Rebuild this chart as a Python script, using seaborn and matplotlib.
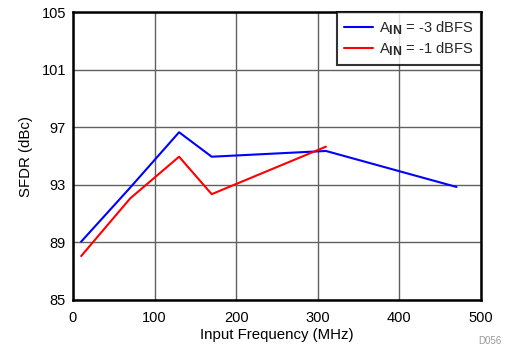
import matplotlib
matplotlib.use("Agg")
import matplotlib.pyplot as plt
import matplotlib._mathtext as _mt
import seaborn as sns
import pandas as pd

# larger subscripts, closer to the reference's bold "IN"
_mt.SHRINK_FACTOR = 0.85

freq_a = [10, 70, 130, 170, 310, 470]
sfdr_a = [89.05, 92.8, 96.65, 94.95, 95.35, 92.85]
freq_b = [10, 70, 130, 170, 310]
sfdr_b = [88.05, 92.05, 94.95, 92.35, 95.65]
labels = [r'A$_{\mathbf{IN}}$ = -3 dBFS', r'A$_{\mathbf{IN}}$ = -1 dBFS']
xticks = [0, 100, 200, 300, 400, 500]
yticks = [85, 89, 93, 97, 101, 105]

df = pd.concat([
    pd.DataFrame({"freq": freq_a, "sfdr": sfdr_a, "series": labels[0]}),
    pd.DataFrame({"freq": freq_b, "sfdr": sfdr_b, "series": labels[1]}),
])

sns.set_theme(style="white")
plt.rcParams['font.family'] = ['Liberation Sans', 'DejaVu Sans']
plt.rcParams['mathtext.fontset'] = 'custom'
plt.rcParams['mathtext.rm'] = 'Liberation Sans'
plt.rcParams['mathtext.bf'] = 'Liberation Sans:bold'
plt.rcParams['mathtext.it'] = 'Liberation Sans:italic'

fig = plt.figure(figsize=(5.09, 3.51), dpi=100)
ax = fig.add_axes([0.1434, 0.1453, 0.8016, 0.8205])
sns.lineplot(data=df, x="freq", y="sfdr", hue="series", sort=False,
             palette=["#0000ff", "#ff0000"], linewidth=1.5, ax=ax, estimator=None)

ax.set_xlim(0, 500)
ax.set_ylim(85, 105)
ax.set_xticks(xticks)
ax.set_yticks(yticks)
ax.grid(True, color="#606060", linewidth=1.0)
ax.set_axisbelow(True)
for s in ax.spines.values():
    s.set_color("black")
    s.set_linewidth(1.8)
ax.tick_params(axis="both", labelsize=10.5, colors="black", length=0)
ax.tick_params(axis="x", pad=8)
ax.tick_params(axis="y", pad=5)
ax.set_xlabel("Input Frequency (MHz)", fontsize=10.8, color="black", labelpad=2)
ax.set_ylabel("SFDR (dBc)", fontsize=10.8, color="black", labelpad=6.5)

leg = ax.legend(loc="upper right", fontsize=10.5, frameon=True, fancybox=False,
                borderaxespad=0.0, handlelength=2.0, handletextpad=0.4,
                borderpad=0.5, labelspacing=0.25)
leg.get_frame().set_edgecolor("black")
leg.get_frame().set_linewidth(1.5)
leg.set_title(None)

fig.text(0.985, 0.015, "D056", fontsize=7, color="#999999", ha="right", va="bottom")
fig.savefig("out.png", dpi=100)
